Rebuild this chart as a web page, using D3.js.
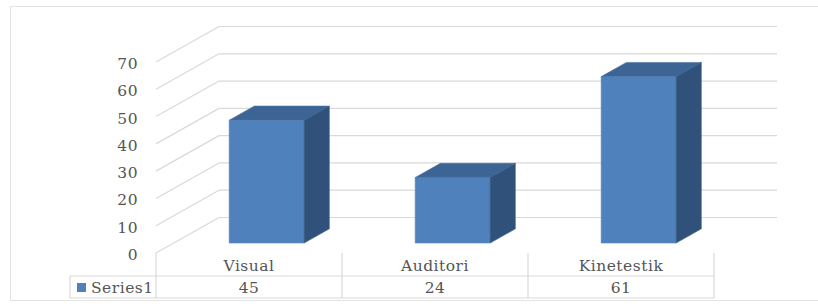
<!DOCTYPE html>
<html>
  <head>
    <script src="https://d3js.org/d3.v7.min.js" charset="utf-8"></script>
    <style>
      body { margin: 0; background: #fff; }
      text {
        font-family: "DejaVu Serif", "Liberation Serif", serif;
        font-size: 15.5px;
        fill: #555;
        letter-spacing: 0.5px;
      }
    </style>
  </head>
  <body>
    <div id="chart"></div>
    <script>
      // data
      var categories = ["Visual", "Auditori", "Kinetestik"];
      var seriesName = "Series1";
      var values = [45, 24, 61];
      var tickValues = [0, 10, 20, 30, 40, 50, 60, 70];

      var width = 818, height = 307;

      // oblique 3d: how far the back wall is moved from the front
      var depthX = 63, depthY = 35.5;
      var barFront = 0.28, barBack = 0.68;

      var svg = d3.select('#chart')
          .append('svg')
          .attr('width', width)
          .attr('height', height);

      // outer chart border
      svg.append('rect')
          .attr('x', 10.5).attr('y', 6.5)
          .attr('width', 830).attr('height', 294)
          .attr('fill', 'none')
          .attr('stroke', '#e3e3e3');

      var x = d3.scaleBand()
          .domain(categories)
          .range([156, 714])
          .paddingInner(0).paddingOuter(0);

      var y = d3.scaleLinear()
          .domain([0, 70])
          .range([253, 62]);

      // project a front point back by a depth fraction
      function px(xv, f) { return xv + depthX * f; }
      function py(yv, f) { return yv - depthY * f; }

      var x0 = x.range()[0], x1 = x.range()[1];

      // back wall gridlines
      svg.selectAll('.grid')
          .data(tickValues)
          .enter()
          .append('line')
          .attr('x1', px(x0, 1)).attr('x2', px(x1, 1))
          .attr('y1', function(d) { return py(y(d), 1); })
          .attr('y2', function(d) { return py(y(d), 1); })
          .attr('stroke', '#d9d9d9')
          .attr('stroke-width', 1.2);

      // side wall diagonals
      svg.selectAll('.diag')
          .data(tickValues)
          .enter()
          .append('line')
          .attr('x1', x0).attr('x2', px(x0, 1))
          .attr('y1', function(d) { return y(d); })
          .attr('y2', function(d) { return py(y(d), 1); })
          .attr('stroke', '#d9d9d9')
          .attr('stroke-width', 1.2);

      // y labels
      svg.selectAll('.ylab')
          .data(tickValues)
          .enter()
          .append('text')
          .attr('x', 138)
          .attr('y', function(d) { return y(d) + 7; })
          .attr('text-anchor', 'end')
          .text(function(d) { return d; });

      // bars
      var barWidth = x.bandwidth() * 0.403;
      var bars = svg.selectAll('.bar')
          .data(values)
          .enter()
          .append('g');

      function face(d, i, kind) {
        var left = x(categories[i]) + (x.bandwidth() - barWidth) / 2;
        var right = left + barWidth;
        var top = y(d), bottom = y(0);
        var pts;
        if (kind == 'front') {
          pts = [[px(left, barFront), py(top, barFront)], [px(right, barFront), py(top, barFront)],
                 [px(right, barFront), py(bottom, barFront)], [px(left, barFront), py(bottom, barFront)]];
        } else if (kind == 'top') {
          pts = [[px(left, barFront), py(top, barFront)], [px(right, barFront), py(top, barFront)],
                 [px(right, barBack), py(top, barBack)], [px(left, barBack), py(top, barBack)]];
        } else {
          pts = [[px(right, barFront), py(top, barFront)], [px(right, barBack), py(top, barBack)],
                 [px(right, barBack), py(bottom, barBack)], [px(right, barFront), py(bottom, barFront)]];
        }
        return pts.map(function(p) { return p.join(','); }).join(' ');
      }

      bars.append('polygon')
          .attr('points', function(d, i) { return face(d, i, 'front'); })
          .attr('fill', '#4f81bd')
          .attr('stroke', '#5a8ac4').attr('stroke-width', 0.6);
      bars.append('polygon')
          .attr('points', function(d, i) { return face(d, i, 'top'); })
          .attr('fill', '#3c6595')
          .attr('stroke', '#4a73a3').attr('stroke-width', 0.6);
      bars.append('polygon')
          .attr('points', function(d, i) { return face(d, i, 'side'); })
          .attr('fill', '#30527a')
          .attr('stroke', '#3b5f88').attr('stroke-width', 0.6);

      // data table
      var rowTop = 253, rowMid = 276, rowBottom = 298, tableLeft = 70;
      var tableColor = '#d9d9d9';

      svg.append('line')
          .attr('x1', tableLeft).attr('x2', x1)
          .attr('y1', rowMid).attr('y2', rowMid)
          .attr('stroke', tableColor).attr('stroke-width', 1.2);
      svg.append('line')
          .attr('x1', tableLeft).attr('x2', x1)
          .attr('y1', rowBottom).attr('y2', rowBottom)
          .attr('stroke', tableColor).attr('stroke-width', 1.2);
      svg.append('line')
          .attr('x1', tableLeft).attr('x2', tableLeft)
          .attr('y1', rowMid).attr('y2', rowBottom)
          .attr('stroke', tableColor).attr('stroke-width', 1.2);

      var edges = categories.map(function(c) { return x(c); }).concat([x1]);
      svg.selectAll('.tcol')
          .data(edges)
          .enter()
          .append('line')
          .attr('x1', function(d) { return d; }).attr('x2', function(d) { return d; })
          .attr('y1', rowTop).attr('y2', rowBottom)
          .attr('stroke', tableColor).attr('stroke-width', 1.2);

      svg.selectAll('.catlab')
          .data(categories)
          .enter()
          .append('text')
          .attr('x', function(d) { return x(d) + x.bandwidth() / 2; })
          .attr('y', 271)
          .attr('text-anchor', 'middle')
          .text(function(d) { return d; });

      svg.selectAll('.vallab')
          .data(values)
          .enter()
          .append('text')
          .attr('x', function(d, i) { return x(categories[i]) + x.bandwidth() / 2; })
          .attr('y', 293)
          .attr('text-anchor', 'middle')
          .text(function(d) { return d; });

      // legend key + series name
      svg.append('rect')
          .attr('x', 77).attr('y', 283)
          .attr('width', 9).attr('height', 9)
          .attr('fill', '#4f81bd');
      svg.append('text')
          .attr('x', 91).attr('y', 293)
          .text(seriesName);
    </script>
  </body>
</html>
